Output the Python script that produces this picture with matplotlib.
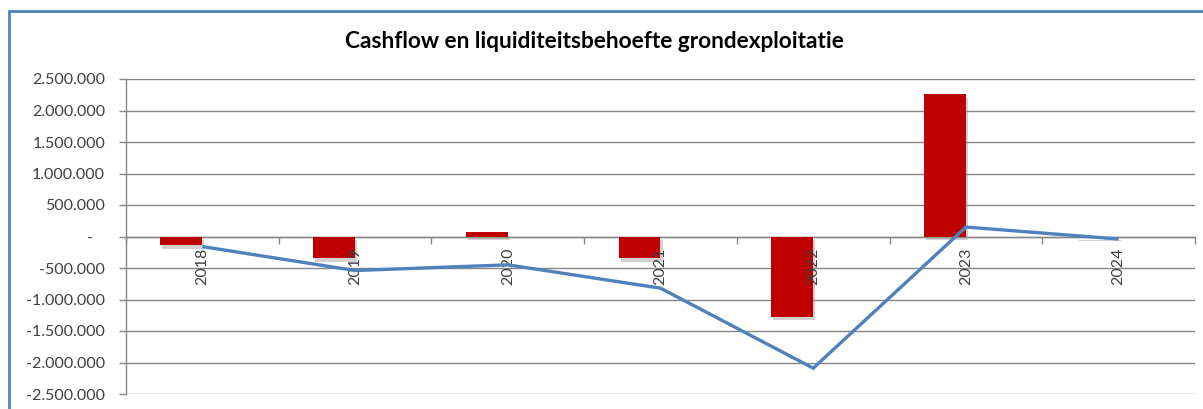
import matplotlib
matplotlib.use("Agg")
import matplotlib.pyplot as plt
import matplotlib.patheffects as pe
from matplotlib.patches import Rectangle
from matplotlib.ticker import FuncFormatter, MultipleLocator, FixedLocator
import numpy as np

years = ["2018", "2019", "2020", "2021", "2022", "2023", "2024"]
cashflow = [-140000, -345000, 70000, -345000, -1270000, 2260000, -10000]
liquiditeit = [-160000, -540000, -450000, -820000, -2090000, 150000, -40000]

title = "Cashflow en liquiditeitsbehoefte grondexploitatie"

W, H = 1203, 409
fig = plt.figure(figsize=(W / 100, H / 100), dpi=100)
fig.patch.set_facecolor("white")

# blue chart border (cropped at right / bottom)
fig.patches.append(Rectangle((8.5 / W, -0.1), 1.2, (1 - 10.5 / H) + 0.1,
                             transform=fig.transFigure, fill=False,
                             edgecolor="#4F81BD", linewidth=2.0))

ax = fig.add_axes([126 / W, 1 - 394 / H, (1195 - 126) / W, (394 - 79) / H])

n = len(years)
idx = np.arange(n)
bw = 0.275
grey = "#868686"
txt = "#404040"

ax.bar(idx - bw / 2, cashflow, width=bw, color="#C00000", zorder=3,
       path_effects=[pe.SimplePatchShadow(offset=(1.5, -2.5), shadow_rgbFace="#999999", alpha=0.45),
                     pe.Normal()])
ax.plot(idx, liquiditeit, color="#4F81BD", linewidth=2.4, zorder=4,
        solid_joinstyle="miter", solid_capstyle="butt")

ax.set_xlim(-0.5, n - 0.5)
ax.set_ylim(-2500000, 2500000)
ax.yaxis.set_major_locator(MultipleLocator(500000))


def fmt(v, pos):
    if abs(v) < 1:
        return "-   "
    s = f"{abs(int(round(v))):,}".replace(",", ".")
    return ("-" if v < 0 else "") + s


ax.yaxis.set_major_formatter(FuncFormatter(fmt))
ax.grid(axis="y", color=grey, linewidth=1.0, zorder=0)
ax.set_axisbelow(True)

for s in ["top", "right"]:
    ax.spines[s].set_visible(False)
ax.spines["left"].set_color(grey)
ax.spines["left"].set_linewidth(1.0)
ax.spines["bottom"].set_position(("data", 0))
ax.spines["bottom"].set_color(grey)
ax.spines["bottom"].set_linewidth(1.0)
ax.spines["bottom"].set_zorder(2)

ax.xaxis.set_major_locator(FixedLocator(idx))
ax.xaxis.set_minor_locator(FixedLocator(np.arange(n + 1) - 0.5))
ax.set_xticklabels(years, rotation=90, fontsize=11.5, color=txt, family="Lato",
                   va="top", ha="center")
ax.tick_params(axis="x", which="major", length=0, pad=8)
ax.tick_params(axis="x", which="minor", length=5, color=grey, width=1.0, direction="out")
ax.tick_params(axis="y", length=5, color=grey, width=1.0, labelsize=11.5,
               labelcolor=txt, pad=10)
for lab in ax.get_yticklabels():
    lab.set_family("Lato")
ax.xaxis.set_zorder(3.5)

fig.text(594 / W, 1 - 41 / H, title, ha="center", va="center",
         fontsize=16.3, fontweight="bold", family="Lato", color="#000000")

fig.savefig("out.png", dpi=100)
